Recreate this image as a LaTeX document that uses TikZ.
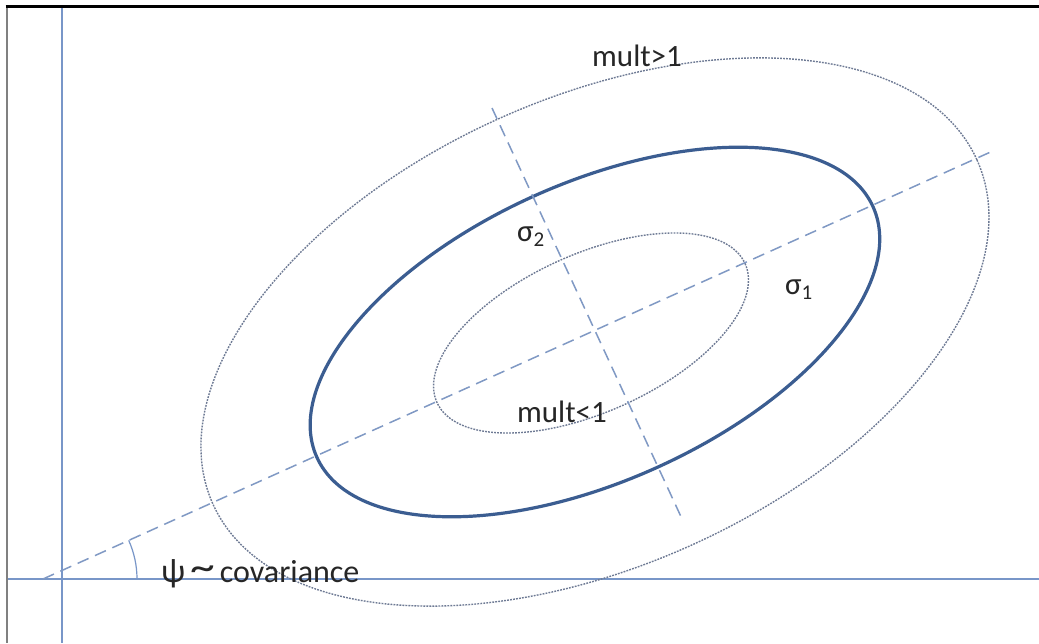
\documentclass[tikz,border=0pt]{standalone}
\usepackage{fontspec}
\setmainfont{Carlito}
\definecolor{axisblue}{HTML}{7896C8}
\definecolor{thickblue}{HTML}{3B5D91}
\definecolor{dotgray}{HTML}{6E7A94}
\definecolor{dashblue}{HTML}{8099C4}
\tikzset{
  axisline/.style={axisblue, line width=1.4pt},
  mainell/.style={thickblue, line width=3.2pt},
  dotell/.style={dotgray, line width=1.4pt, dash pattern=on 1.8pt off 1.2pt},
  dashline/.style={dashblue, line width=1.5pt, dash pattern=on 12pt off 7pt},
  lbl/.style={font=\fontsize{31}{34}\selectfont, text=black!85, inner sep=0pt}
}
\begin{document}
\begin{tikzpicture}[x=1pt,y=-1pt]
\useasboundingbox (0,0) rectangle (1039,643);
\fill[white] (0,0) rectangle (1039,643);
% frame
\draw[gray, line width=2pt] (7,6) -- (7,643);
\draw[black, line width=3pt] (5.5,6.5) -- (1039,6.5);
% axes
\coordinate (yt) at (62,8);
\coordinate (yb) at (62,643);
\coordinate (xl) at (8,579);
\coordinate (xr) at (1039,579);
\draw[axisline] (yt) -- (yb);
\draw[axisline] (xl) -- (xr);
% centre
\coordinate (c) at (595,332);
% ellipses
\draw[dotell, rotate around={24.25:(c)}] (c) ellipse[x radius=419, y radius=234];
\draw[mainell, rotate around={24.25:(c)}] (c) ellipse[x radius=305, y radius=149];
\draw[dotell, rotate around={24.25:(591,333)}] (591,333) ellipse[x radius=169, y radius=79];
% principal axes
\coordinate (ma) at (43,579);
\coordinate (mb) at (995,150);
\coordinate (na) at (492,108);
\coordinate (nb) at (683,521);
\draw[dashline] (ma) -- (mb);
\draw[dashline] (na) -- (nb);
% angle arc
\draw[axisline, line width=1.2pt] (137,579) arc[start angle=0, end angle=-24.25, radius=94];
% labels
\node[lbl, anchor=base west] (psi) at (161,582) {{\fontsize{34}{36}\selectfont ψ}\hspace{5pt}\raisebox{0.12ex}{\scalebox{1.6}[1.3]{\textasciitilde}}\hspace{5pt}{\fontsize{32}{34}\selectfont covariance}};
\node[lbl, anchor=base west] (mg) at (592,66) {mult>1};
\node[lbl, anchor=base west] (ml) at (517,422) {mult<1};
\node[lbl, anchor=base west] (s2) at (517,241) {σ\raisebox{-0.35ex}{\fontsize{21}{22}\selectfont 2}};
\node[lbl, anchor=base west] (s1) at (785,294) {σ\raisebox{-0.35ex}{\fontsize{21}{22}\selectfont 1}};
\end{tikzpicture}
\end{document}
